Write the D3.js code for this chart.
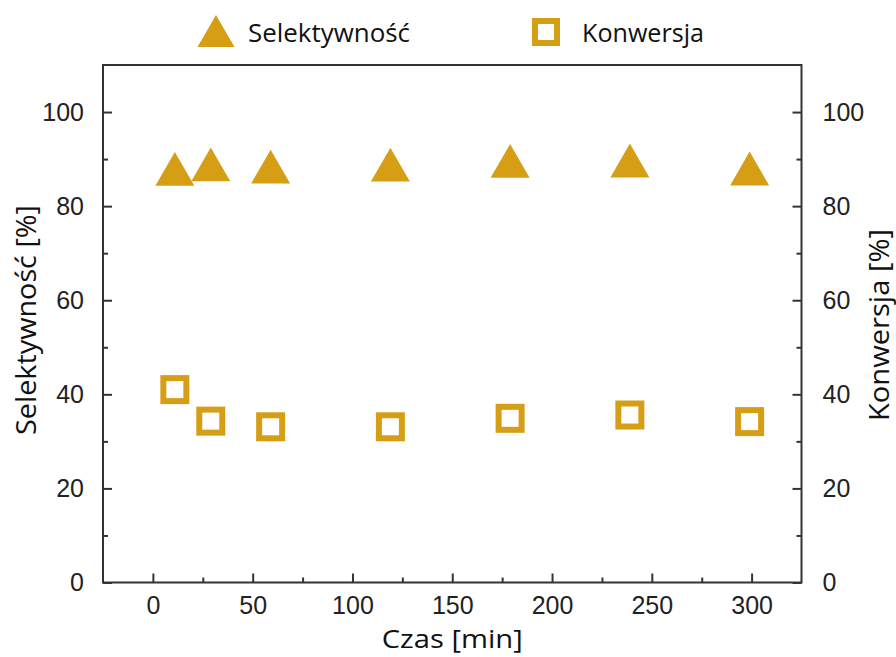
<!DOCTYPE html>
<html>
<head>
<meta charset="utf-8">
<script src="https://cdn.jsdelivr.net/npm/d3@7"></script>
<style>
  html, body { margin: 0; padding: 0; background: #fff; }
  svg { display: block; }
</style>
</head>
<body>
<div id="chart"></div>
<script>
// ---- data ----
const times = [11, 29, 59, 119, 179, 239, 299];
const selectivity = [87.9, 88.9, 88.4, 88.8, 89.6, 89.7, 88.0];
const conversion = [41.0, 34.3, 33.1, 33.1, 34.9, 35.6, 34.2];
const xTicks = [0, 50, 100, 150, 200, 250, 300];
const xMinorTicks = [25, 75, 125, 175, 225, 275];
const yTicks = [0, 20, 40, 60, 80, 100];
const yMinorTicks = [10, 30, 50, 70, 90];
const seriesNames = ["Selektywność", "Konwersja"];
const xTitle = "Czas [min]";
const yLeftTitle = "Selektywność [%]";
const yRightTitle = "Konwersja [%]";

// ---- layout ----
const W = 896, H = 657;
const L = 103, R = 801.5, T = 65, B = 582.5;
const color = "#D69E14";
const axisColor = "#333";
const labelFont = "'Liberation Sans', Arial, sans-serif";
const titleFont = "'Open Sans', 'Noto Sans', sans-serif";

const svg = d3.select("#chart").append("svg").attr("width", W).attr("height", H);

const x = d3.scaleLinear().domain([-25, 325]).range([L, R]);
const y = d3.scaleLinear().domain([0, 110]).range([B, T]);

// frame
svg.append("rect").attr("x", L).attr("y", T).attr("width", R - L).attr("height", B - T)
  .attr("fill", "none").attr("stroke", axisColor).attr("stroke-width", 2);

function styleAxis(g) {
  g.select(".domain").remove();
  g.selectAll(".tick line").attr("stroke", axisColor).attr("stroke-width", 2);
  g.selectAll(".tick text").attr("fill", "#222").style("font-family", labelFont).style("font-size", "25px");
}

// bottom axis (ticks inward)
const gx = svg.append("g").attr("transform", `translate(0,${B})`)
  .call(d3.axisBottom(x).tickValues(xTicks).tickSizeInner(-9).tickSizeOuter(0).tickPadding(14));
styleAxis(gx);
svg.append("g").attr("transform", `translate(0,${B})`)
  .call(d3.axisBottom(x).tickValues(xMinorTicks).tickSize(-5).tickFormat(""))
  .call(g => { g.select(".domain").remove(); g.selectAll("line").attr("stroke", axisColor).attr("stroke-width", 2); });

// left axis
const gyl = svg.append("g").attr("transform", `translate(${L},0)`)
  .call(d3.axisLeft(y).tickValues(yTicks).tickSizeInner(-9).tickSizeOuter(0).tickPadding(19));
styleAxis(gyl);
svg.append("g").attr("transform", `translate(${L},0)`)
  .call(d3.axisLeft(y).tickValues(yMinorTicks).tickSize(-5).tickFormat(""))
  .call(g => { g.select(".domain").remove(); g.selectAll("line").attr("stroke", axisColor).attr("stroke-width", 2); });

// right axis
const gyr = svg.append("g").attr("transform", `translate(${R},0)`)
  .call(d3.axisRight(y).tickValues(yTicks).tickSizeInner(-9).tickSizeOuter(0).tickPadding(21));
styleAxis(gyr);
svg.append("g").attr("transform", `translate(${R},0)`)
  .call(d3.axisRight(y).tickValues(yMinorTicks).tickSize(-5).tickFormat(""))
  .call(g => { g.select(".domain").remove(); g.selectAll("line").attr("stroke", axisColor).attr("stroke-width", 2); });

// markers
function triPath(s) {
  const h = s * Math.sqrt(3) / 2;
  return `M0,${-h/2}L${s/2},${h/2}L${-s/2},${h/2}Z`;
}
const selData = times.map((t, i) => ({ t, v: selectivity[i] }));
const convData = times.map((t, i) => ({ t, v: conversion[i] }));

svg.append("g").selectAll("path").data(selData).join("path")
  .attr("d", triPath(39))
  .attr("transform", d => `translate(${x(d.t)},${y(d.v)})`)
  .attr("fill", color);

const sq = 23;
svg.append("g").selectAll("rect").data(convData).join("rect")
  .attr("x", d => x(d.t) - sq / 2).attr("y", d => y(d.v) - sq / 2)
  .attr("width", sq).attr("height", sq)
  .attr("fill", "#fff").attr("stroke", color).attr("stroke-width", 6);

// legend
const leg = svg.append("g");
leg.append("path").attr("d", triPath(37)).attr("transform", "translate(216,31)").attr("fill", color);
leg.append("text").attr("x", 248).attr("y", 42).text(seriesNames[0])
  .style("font-family", titleFont).style("font-size", "26px").attr("fill", "#111")
  .attr("textLength", 162).attr("lengthAdjust", "spacingAndGlyphs");
leg.append("rect").attr("x", 546 - 11).attr("y", 32 - 11).attr("width", 22).attr("height", 22)
  .attr("fill", "#fff").attr("stroke", color).attr("stroke-width", 6);
leg.append("text").attr("x", 582).attr("y", 42).text(seriesNames[1])
  .style("font-family", titleFont).style("font-size", "26px").attr("fill", "#111")
  .attr("textLength", 122).attr("lengthAdjust", "spacingAndGlyphs");

// axis titles
svg.append("text").attr("x", (L + R) / 2).attr("y", 648).attr("text-anchor", "middle")
  .text(xTitle).style("font-family", titleFont).style("font-size", "26px").attr("fill", "#111")
  .attr("textLength", 141).attr("lengthAdjust", "spacingAndGlyphs");
svg.append("text").attr("transform", "translate(36,320) rotate(-90)").attr("text-anchor", "middle")
  .text(yLeftTitle).style("font-family", titleFont).style("font-size", "28px").attr("fill", "#111")
  .attr("textLength", 230).attr("lengthAdjust", "spacingAndGlyphs");
svg.append("text").attr("transform", "translate(889,325) rotate(-90)").attr("text-anchor", "middle")
  .text(yRightTitle).style("font-family", titleFont).style("font-size", "28px").attr("fill", "#111")
  .attr("textLength", 192).attr("lengthAdjust", "spacingAndGlyphs");
</script>
</body>
</html>
